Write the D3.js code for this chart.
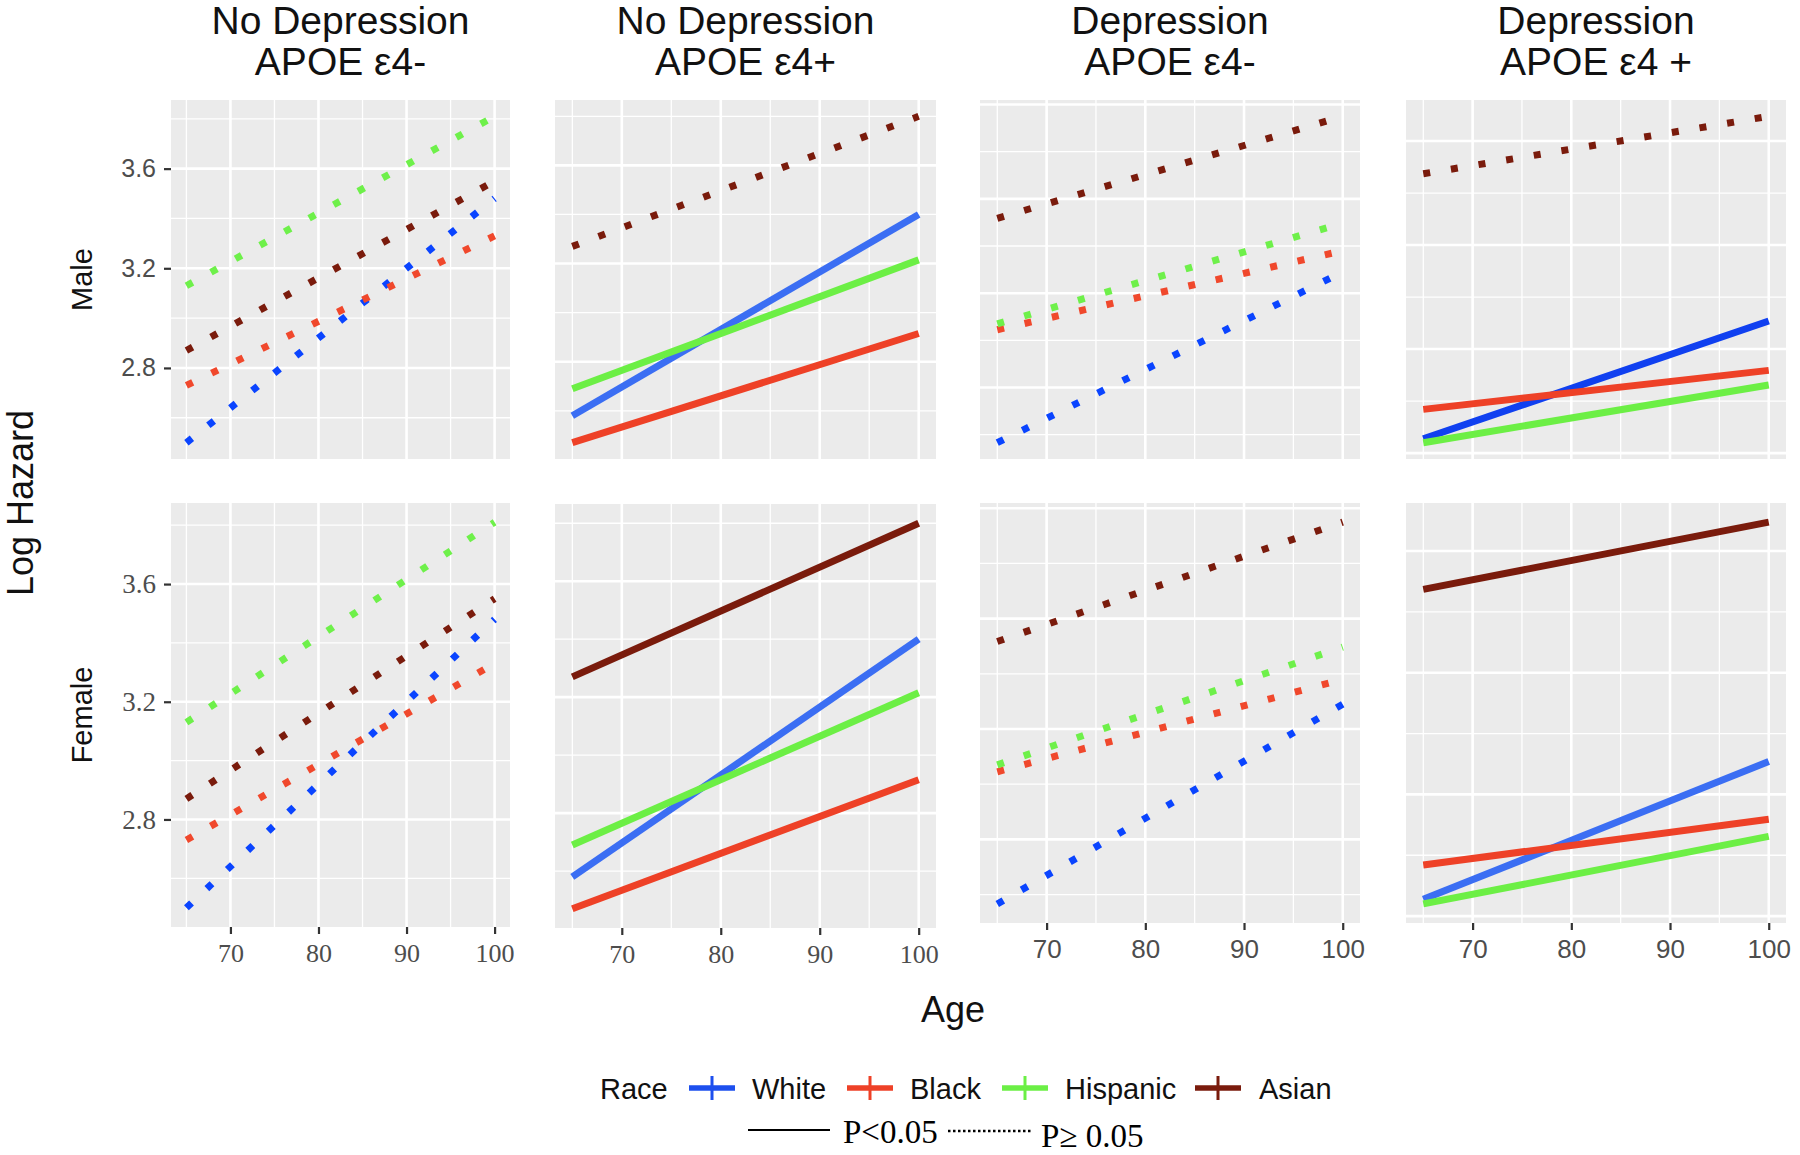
<!DOCTYPE html>
<html><head><meta charset="utf-8">
<script src="https://cdn.jsdelivr.net/npm/d3@7"></script>
<style>
html,body{margin:0;padding:0;background:#fff;}
svg{display:block;}
</style></head><body>
<svg id="chart" width="1800" height="1155"></svg>
<script>
// ---------------- data ----------------
const ageSpan = [65, 100];
const ageBreaks = [70, 80, 90, 100];
const ageMinorBreaks = [65, 75, 85, 95];
const races = ["White", "Black", "Hispanic", "Asian"];
const depressionTitles = ["No Depression", "No Depression", "Depression", "Depression"];
const apoeTitles = ["APOE \u03b54-", "APOE \u03b54+", "APOE \u03b54-", "APOE \u03b54 +"];
const sexes = ["Male", "Female"];
const hazardTicks = [2.8, 3.2, 3.6];
const hazardTickLabels = ["2.8", "3.2", "3.6"];
// log hazard at age 65 and at age 100 (order: White, Black, Hispanic, Asian)
const noDepNegAt65  = [2.50, 2.73, 3.13, 2.87];
const noDepNegAt100 = [3.48, 3.33, 3.81, 3.55];
const noDepPosAt65  = [2.58, 2.47, 2.69, 3.27];
const noDepPosAt100 = [3.40, 2.915, 3.215, 3.80];
const depNegAt65    = [2.566, 3.045, 3.07, 3.517];
const depNegAt100   = [3.29, 3.38, 3.497, 3.95];
const depPosAt65    = [2.455, 2.568, 2.44, 3.474];
const depPosAt100   = [2.908, 2.718, 2.662, 3.695];
// 1 = P<0.05 (solid), 0 = P>=0.05 (dotted); rows = panels (columns), cols = races
const maleSignificant   = [[0,0,0,0],[1,1,1,0],[0,0,0,0],[1,1,1,0]];
const femaleSignificant = [[0,0,0,0],[1,1,1,1],[0,0,0,0],[1,1,1,1]];
const pLabels = ["P<0.05", "P\u2265 0.05"];

// ---------------- styles / layout ----------------
const solidColors  = ["#3b6ef3", "#ee4127", "#6cef45", "#7a1b0c"];
const dottedColors = ["#0a44ff", "#f0482c", "#6ef04a", "#7a1b0c"];
const keyColors    = ["#1d4fee", "#ee4127", "#6bef45", "#7a1b0c"];
const SANS = "'Liberation Sans', Arial, Helvetica, sans-serif";
const SERIF = "'Liberation Serif', 'Times New Roman', serif";
const colX = [[171, 510], [555, 936], [980, 1360], [1406, 1786]];
const rowY = [
  [[100, 459], [100, 459], [100, 459], [100, 459]],
  [[503, 927], [504, 928], [503, 923], [503, 923]]
];
const xTickFont = [SERIF, SERIF, SANS, SANS];
const yTickFont = [SANS, SERIF];

const at65 = [noDepNegAt65, noDepPosAt65, depNegAt65, depPosAt65];
const at100 = [noDepNegAt100, noDepPosAt100, depNegAt100, depPosAt100];
const significance = [maleSignificant, femaleSignificant];

const svg = d3.select("#chart");
const defs = svg.append("defs");
function expand([a, b]) { const d = (b - a) * 0.05; return [a - d, b + d]; }

sexes.forEach((sex, r) => {
  at65.forEach((start, c) => {
    const [x0, x1] = colX[c];
    const [y0, y1] = rowY[r][c];
    const x = d3.scaleLinear().domain(expand(ageSpan)).range([x0, x1]);
    const yDom = expand(d3.extent(start.concat(at100[c])));
    const y = d3.scaleLinear().domain(yDom).range([y1, y0]);
    const g = svg.append("g");
    g.append("rect").attr("x", x0).attr("y", y0).attr("width", x1 - x0).attr("height", y1 - y0)
      .attr("fill", "#ebebeb");
    // gridlines
    const kLo = Math.ceil(yDom[0] / 0.2 - 1e-9), kHi = Math.floor(yDom[1] / 0.2 + 1e-9);
    const yGrid = d3.range(kLo, kHi + 1).map(k => ({ v: k * 0.2, major: k % 2 === 0 }));
    g.selectAll(".hgrid").data(yGrid).join("line")
      .attr("x1", x0).attr("x2", x1)
      .attr("y1", d => y(d.v)).attr("y2", d => y(d.v))
      .attr("stroke", "#fff").attr("stroke-width", d => d.major ? 2.6 : 1.3);
    const xGrid = ageMinorBreaks.map(v => ({ v, major: false })).concat(ageBreaks.map(v => ({ v, major: true })));
    g.selectAll(".vgrid").data(xGrid).join("line")
      .attr("y1", y0).attr("y2", y1)
      .attr("x1", d => x(d.v)).attr("x2", d => x(d.v))
      .attr("stroke", "#fff").attr("stroke-width", d => d.major ? 2.6 : 1.3);
    // clip
    const cid = `clip-${r}-${c}`;
    defs.append("clipPath").attr("id", cid).append("rect")
      .attr("x", x0).attr("y", y0).attr("width", x1 - x0).attr("height", y1 - y0);
    const lg = g.append("g").attr("clip-path", `url(#${cid})`);
    const line = d3.line().x(d => x(d.age)).y(d => y(d.v));
    races.forEach((race, i) => {
      const sig = significance[r][c][i] === 1;
      const pts = [{ age: ageSpan[0], v: start[i] }, { age: ageSpan[1], v: at100[c][i] }];
      let col = sig ? solidColors[i] : dottedColors[i];
      if (sig && i === 0 && r === 0 && c === 3) col = "#1040f0";
      lg.append("path").datum(pts).attr("d", line)
        .attr("fill", "none")
        .attr("stroke", col)
        .attr("stroke-width", 7)
        .attr("stroke-linecap", "butt")
        .attr("stroke-dasharray", sig ? null : "7 21");
    });
    // axes
    if (r === 1) {
      const ax = svg.append("g").attr("transform", `translate(0,${y1})`)
        .call(d3.axisBottom(x).tickValues(ageBreaks).tickSize(7).tickPadding(9.5));
      ax.select(".domain").remove();
      ax.selectAll("line").attr("stroke", "#333").attr("stroke-width", 2.2);
      ax.selectAll("text").attr("fill", "#4d4d4d").style("font-family", xTickFont[c])
        .style("font-size", "26px");
    }
    if (c === 0) {
      const ay = svg.append("g").attr("transform", `translate(${x0},0)`)
        .call(d3.axisLeft(y).tickValues(hazardTicks).tickFormat((d, i) => hazardTickLabels[i])
          .tickSize(7).tickPadding(8));
      ay.select(".domain").remove();
      ay.selectAll("line").attr("stroke", "#333").attr("stroke-width", 2.2);
      ay.selectAll("text").attr("fill", "#4d4d4d").style("font-family", yTickFont[r])
        .style("font-size", r === 0 ? "25px" : "27px");
    }
  });
  // row strip label
  const [ya, yb] = rowY[r][0];
  svg.append("text").attr("transform", `translate(92,${(ya + yb) / 2}) rotate(-90)`)
    .attr("text-anchor", "middle").style("font-family", SANS).style("font-size", "29px")
    .attr("fill", "#111").text(sex);
});

// column titles
depressionTitles.forEach((t, c) => {
  const cx = (colX[c][0] + colX[c][1]) / 2;
  svg.append("text").attr("x", cx).attr("y", 34).attr("text-anchor", "middle")
    .style("font-family", SANS).style("font-size", "39px").attr("fill", "#111").text(t);
  svg.append("text").attr("x", cx).attr("y", 75).attr("text-anchor", "middle")
    .style("font-family", SANS).style("font-size", "39px").attr("fill", "#111").text(apoeTitles[c]);
});

// axis titles
svg.append("text").attr("transform", "translate(33,503) rotate(-90)").attr("text-anchor", "middle")
  .style("font-family", SANS).style("font-size", "36px").attr("fill", "#111").text("Log Hazard");
svg.append("text").attr("x", 953).attr("y", 1022).attr("text-anchor", "middle")
  .style("font-family", SANS).style("font-size", "36px").attr("fill", "#111").text("Age");

// legend: race
const legendY = 1088;
svg.append("text").attr("x", 600).attr("y", legendY + 10.5)
  .style("font-family", SANS).style("font-size", "29px").attr("fill", "#111").text("Race");
const keyCenters = [712, 870, 1025, 1218];
const labelStarts = [752, 910, 1065, 1259];
races.forEach((race, i) => {
  const kx = keyCenters[i];
  svg.append("line").attr("x1", kx - 23).attr("x2", kx + 23).attr("y1", legendY).attr("y2", legendY)
    .attr("stroke", keyColors[i]).attr("stroke-width", 5.5);
  svg.append("line").attr("x1", kx).attr("x2", kx).attr("y1", legendY - 12).attr("y2", legendY + 12)
    .attr("stroke", keyColors[i]).attr("stroke-width", 3);
  svg.append("text").attr("x", labelStarts[i]).attr("y", legendY + 10.5)
    .style("font-family", SANS).style("font-size", "29px").attr("fill", "#111").text(race);
});
// legend: significance
svg.append("line").attr("x1", 748).attr("x2", 830).attr("y1", 1130).attr("y2", 1130)
  .attr("stroke", "#000").attr("stroke-width", 2);
svg.append("text").attr("x", 843).attr("y", 1143)
  .style("font-family", SERIF).style("font-size", "33px").attr("fill", "#000").text(pLabels[0]);
svg.append("line").attr("x1", 948).attr("x2", 1031).attr("y1", 1131).attr("y2", 1131)
  .attr("stroke", "#000").attr("stroke-width", 2.5).attr("stroke-dasharray", "2.5 2.5");
svg.append("text").attr("x", 1041).attr("y", 1147)
  .style("font-family", SERIF).style("font-size", "33px").attr("fill", "#000").text(pLabels[1]);
</script>
</body></html>
